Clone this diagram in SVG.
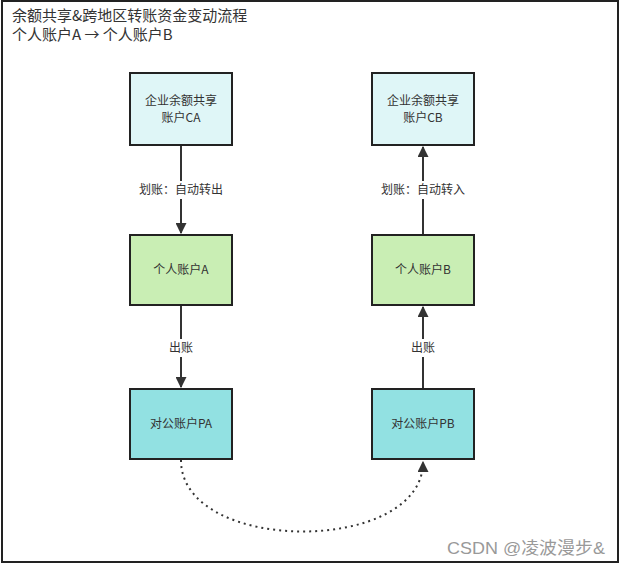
<svg xmlns="http://www.w3.org/2000/svg" width="621" height="566" viewBox="0 0 621 566">
<style>
.box{stroke:#222;stroke-width:2}
.t{font-family:"Noto Sans CJK SC","Liberation Sans",sans-serif;font-size:12px;fill:#333;text-anchor:middle}
.lbl{font-family:"Noto Sans CJK SC","Liberation Sans",sans-serif;font-size:12px;fill:#333;text-anchor:middle}
.ttl{font-family:"Noto Sans CJK SC","Liberation Sans",sans-serif;font-size:15px;fill:#333}
.ln{stroke:#333;stroke-width:2;fill:none}
</style>
<defs>
<marker id="ah" viewBox="0 0 10 10" refX="9" refY="5" markerWidth="5.5" markerHeight="5.5" markerUnits="strokeWidth" orient="auto">
<path d="M0,0 L10,5 L0,10 Z" fill="#333"/>
</marker>
</defs>
<rect x="0" y="0" width="621" height="566" fill="#fff"/>
<rect x="2" y="1" width="616" height="561" fill="#fff" stroke="#222" stroke-width="2"/>
<text class="ttl" x="12" y="21">余额共享&amp;跨地区转账资金变动流程</text>
<text class="ttl" x="12" y="40">个人账户A → 个人账户B</text>
<g id="connectors">
<path class="ln" d="M181,145 L181,233" marker-end="url(#ah)"/>
<path class="ln" d="M423,235 L423,147" marker-end="url(#ah)"/>
<path class="ln" d="M181,305 L181,387" marker-end="url(#ah)"/>
<path class="ln" d="M423,389 L423,307" marker-end="url(#ah)"/>
<path class="ln" d="M181,460 C181,555 423,555 423,462" stroke-dasharray="2 4" marker-end="url(#ah)"/>
<rect x="134" y="181" width="94" height="18" fill="#fff"/>
<text class="lbl" x="181" y="194">划账：自动转出</text>
<rect x="376" y="181" width="94" height="18" fill="#fff"/>
<text class="lbl" x="423" y="194">划账：自动转入</text>
<rect x="167" y="339" width="28" height="18" fill="#fff"/>
<text class="lbl" x="181" y="352">出账</text>
<rect x="409" y="339" width="28" height="18" fill="#fff"/>
<text class="lbl" x="423" y="352">出账</text>
</g>
<g id="CA">
<rect class="box" x="130" y="73" width="102" height="72" fill="#dff6f7"/>
<text class="t" x="181" y="105">企业余额共享</text>
<text class="t" x="181" y="122">账户CA</text>
</g>
<g id="CB">
<rect class="box" x="372" y="73" width="102" height="72" fill="#dff6f7"/>
<text class="t" x="423" y="105">企业余额共享</text>
<text class="t" x="423" y="122">账户CB</text>
</g>
<g id="A">
<rect class="box" x="130" y="235" width="102" height="70" fill="#c9eeb4"/>
<text class="t" x="181" y="274">个人账户A</text>
</g>
<g id="B">
<rect class="box" x="372" y="235" width="102" height="70" fill="#c9eeb4"/>
<text class="t" x="423" y="274">个人账户B</text>
</g>
<g id="PA">
<rect class="box" x="130" y="389" width="102" height="70" fill="#92e1e2"/>
<text class="t" x="181" y="428">对公账户PA</text>
</g>
<g id="PB">
<rect class="box" x="372" y="389" width="102" height="70" fill="#92e1e2"/>
<text class="t" x="423" y="428">对公账户PB</text>
</g>
<text x="447" y="554" font-family="Liberation Sans,'Noto Sans CJK SC',sans-serif" font-size="17" fill="#999" textLength="158" lengthAdjust="spacingAndGlyphs">CSDN @凌波漫步&amp;</text>
</svg>
